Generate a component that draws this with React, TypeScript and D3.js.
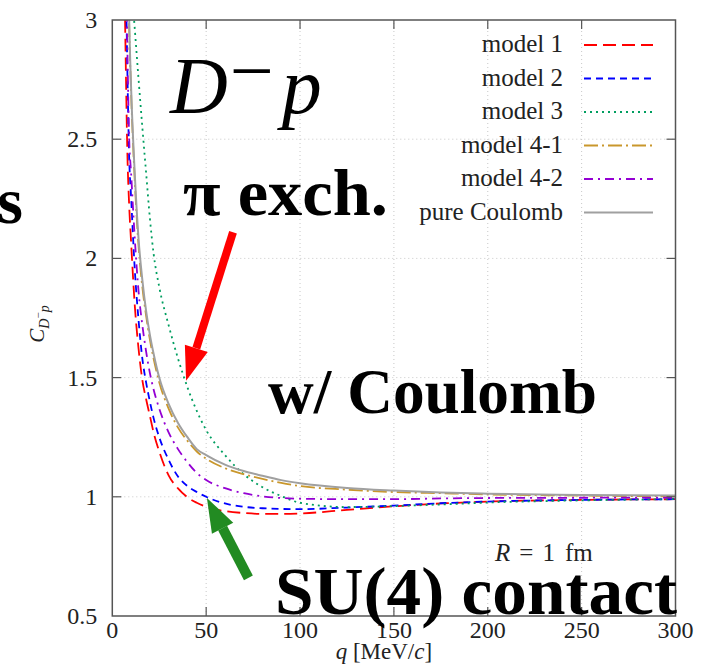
import React, { useRef, useEffect } from 'react';
import * as d3 from 'd3';

// momentum grid (MeV/c) shared by all curves
const qValues = [6, 7, 8, 9, 10, 12, 14, 16, 18, 20, 22, 25, 30, 35, 40, 45, 50, 60, 70, 80, 90, 100, 125, 150, 175, 200, 250, 300];

const model1 = [3.4, 2.9, 2.45, 2.22, 2.07, 1.8, 1.62, 1.49, 1.41, 1.34, 1.27, 1.19, 1.09, 1.035, 0.998, 0.975, 0.958, 0.94, 0.932, 0.928, 0.928, 0.93, 0.945, 0.96, 0.972, 0.98, 0.987, 0.99];
const model2 = [3.8, 3.3, 2.8, 2.42, 2.26, 1.95, 1.74, 1.58, 1.48, 1.4, 1.33, 1.25, 1.155, 1.085, 1.045, 1.02, 1.0, 0.972, 0.958, 0.952, 0.949, 0.948, 0.955, 0.963, 0.973, 0.98, 0.987, 0.99];
const model3 = [3.8, 3.6, 3.45, 3.3, 3.17, 2.96, 2.75, 2.55, 2.36, 2.17, 2.02, 1.88, 1.72, 1.58, 1.46, 1.36, 1.28, 1.175, 1.095, 1.04, 1.003, 0.975, 0.957, 0.961, 0.968, 0.976, 0.985, 0.99];
const model41 = [4.9, 4.1, 3.45, 2.97, 2.7, 2.32, 2.05, 1.88, 1.76, 1.66, 1.58, 1.48, 1.37, 1.29, 1.235, 1.19, 1.16, 1.12, 1.095, 1.075, 1.058, 1.045, 1.03, 1.02, 1.015, 1.01, 1.005, 1.002];
const model42 = [4.0, 3.5, 2.9, 2.5, 2.36, 2.08, 1.86, 1.72, 1.61, 1.52, 1.45, 1.37, 1.27, 1.2, 1.145, 1.1, 1.07, 1.036, 1.015, 1.002, 0.995, 0.992, 0.99, 0.99, 0.993, 0.995, 0.996, 0.997];
const pureCoulomb = [5.0, 4.2, 3.5, 3.0, 2.72, 2.35, 2.08, 1.91, 1.78, 1.68, 1.6, 1.5, 1.39, 1.31, 1.25, 1.2, 1.175, 1.135, 1.108, 1.088, 1.07, 1.057, 1.037, 1.026, 1.018, 1.013, 1.008, 1.005];

const seriesNames = ['model 1', 'model 2', 'model 3', 'model 4-1', 'model 4-2', 'pure Coulomb'];
const seriesValues = [model1, model2, model3, model41, model42, pureCoulomb];
const seriesColors = ['#ff0000', '#0000ff', '#009e60', '#c9972c', '#9400d3', '#a0a0a0'];
const seriesDash = ['13,6', '7,5', '2,4', '14,4,2,4', '9,5,2,5', null];

const xTicks = [0, 50, 100, 150, 200, 250, 300];
const yTicks = [0.5, 1, 1.5, 2, 2.5, 3];

const W = 704;
const H = 668;
const margin = { top: 20, right: 28.5, bottom: 52, left: 112.3 };
const serif = 'Times New Roman, Liberation Serif, DejaVu Serif, serif';

const App: React.FC = () => {
  const svgRef = useRef<SVGSVGElement | null>(null);

  useEffect(() => {
    const svg = d3.select(svgRef.current);
    svg.selectAll('*').remove();

    const x = d3.scaleLinear().domain([0, 300]).range([margin.left, W - margin.right]);
    const y = d3.scaleLinear().domain([0.5, 3]).range([H - margin.bottom, margin.top]);
    const [x0, x1] = x.range();
    const [y0, y1] = y.range();

    svg.append('defs').append('clipPath').attr('id', 'plot-clip')
      .append('rect').attr('x', x0).attr('y', y1).attr('width', x1 - x0).attr('height', y0 - y1);

    // dotted grid
    const grid = svg.append('g').attr('stroke', '#c8c8c8').attr('stroke-width', 1).attr('stroke-dasharray', '1,3');
    xTicks.slice(1, -1).forEach((t) => {
      grid.append('line').attr('x1', x(t)).attr('x2', x(t)).attr('y1', y0).attr('y2', y1);
    });
    yTicks.slice(1, -1).forEach((t) => {
      grid.append('line').attr('x1', x0).attr('x2', x1).attr('y1', y(t)).attr('y2', y(t));
    });

    // curves
    const line = d3.line<number>()
      .x((_, i) => x(qValues[i]))
      .y((d) => y(d))
      .curve(d3.curveMonotoneX);

    const curves = svg.append('g').attr('clip-path', 'url(#plot-clip)');
    seriesValues.forEach((vals, i) => {
      curves.append('path')
        .attr('d', line(vals) as string)
        .attr('fill', 'none')
        .attr('stroke', seriesColors[i])
        .attr('stroke-width', i === 5 ? 2 : 1.8)
        .attr('stroke-dasharray', seriesDash[i] ?? null);
    });

    // frame and inward ticks
    svg.append('rect').attr('x', x0).attr('y', y1).attr('width', x1 - x0).attr('height', y0 - y1)
      .attr('fill', 'none').attr('stroke', '#555').attr('stroke-width', 1.5);
    const ticks = svg.append('g').attr('stroke', '#555').attr('stroke-width', 1.2);
    xTicks.slice(1, -1).forEach((t) => {
      ticks.append('line').attr('x1', x(t)).attr('x2', x(t)).attr('y1', y0).attr('y2', y0 - 9);
      ticks.append('line').attr('x1', x(t)).attr('x2', x(t)).attr('y1', y1).attr('y2', y1 + 9);
    });
    yTicks.slice(1, -1).forEach((t) => {
      ticks.append('line').attr('x1', x0).attr('x2', x0 + 9).attr('y1', y(t)).attr('y2', y(t));
      ticks.append('line').attr('x1', x1).attr('x2', x1 - 9).attr('y1', y(t)).attr('y2', y(t));
    });

    // tick labels
    xTicks.forEach((t) => {
      svg.append('text').attr('x', x(t)).attr('y', y0 + 22).attr('text-anchor', 'middle')
        .style('font-family', serif).attr('font-size', 24).attr('fill', '#222').text(String(t));
    });
    yTicks.forEach((t) => {
      svg.append('text').attr('x', x0 - 15).attr('y', y(t) + 8).attr('text-anchor', 'end')
        .style('font-family', serif).attr('font-size', 24).attr('fill', '#222').text(String(t));
    });

    // axis titles
    const xt = svg.append('text').attr('x', (x0 + x1) / 2 - 10).attr('y', H - 9).attr('text-anchor', 'middle')
      .style('font-family', serif).attr('font-size', 23).attr('fill', '#222');
    xt.append('tspan').attr('font-style', 'italic').text('q');
    xt.append('tspan').text(' [MeV/');
    xt.append('tspan').attr('font-style', 'italic').text('c');
    xt.append('tspan').text(']');

    const yt = svg.append('text').attr('transform', `translate(44, ${(y0 + y1) / 2 + 6}) rotate(-90)`)
      .attr('text-anchor', 'middle').style('font-family', serif).attr('font-size', 21).attr('fill', '#222');
    yt.append('tspan').attr('font-style', 'italic').text('C');
    yt.append('tspan').attr('font-style', 'italic').attr('font-size', 14).attr('dy', 5).text('D');
    yt.append('tspan').attr('font-size', 11).attr('dy', -7).text('−');
    yt.append('tspan').attr('font-style', 'italic').attr('font-size', 14).attr('dy', 7).text('p');

    // legend
    const legend = svg.append('g');
    seriesNames.forEach((name, i) => {
      const by = 52 + i * 33.5;
      legend.append('text').attr('x', 563).attr('y', by).attr('text-anchor', 'end')
        .style('font-family', serif).attr('font-size', 25).attr('fill', '#222').text(name);
      legend.append('line').attr('x1', 584).attr('x2', 653).attr('y1', by - 7).attr('y2', by - 7)
        .attr('stroke', seriesColors[i]).attr('stroke-width', i === 5 ? 2 : 1.8)
        .attr('stroke-dasharray', seriesDash[i] ?? null);
    });

    const rt = svg.append('text').attr('x', 495).attr('y', 561)
      .style('font-family', serif).attr('font-size', 25).attr('fill', '#222');
    rt.append('tspan').attr('font-style', 'italic').text('R');
    rt.append('tspan').attr('dx', 9).text('=');
    rt.append('tspan').attr('dx', 9).text('1');
    rt.append('tspan').attr('dx', 10).text('fm');

    // D^- p label
    const dp = svg.append('text').attr('x', 170).attr('y', 113).style('font-family', serif)
      .attr('font-size', 80).attr('fill', '#000');
    dp.append('tspan').attr('font-style', 'italic').text('D');
    dp.append('tspan').attr('font-size', 78).attr('dy', -16).attr('dx', 2).text('−');
    dp.append('tspan').attr('font-style', 'italic').attr('dy', 16).attr('dx', 8).text('p');

    // bold annotations
    const bold = (txt: string, tx: number, ty: number, size: number, len?: number, anchor = 'start') => {
      const el = svg.append('text').attr('x', tx).attr('y', ty).attr('text-anchor', anchor)
        .style('font-family', serif).attr('font-weight', 'bold').attr('font-size', size)
        .attr('fill', '#000').text(txt);
      if (len) el.attr('textLength', len).attr('lengthAdjust', 'spacingAndGlyphs');
    };
    bold('s', 23, 223, 66, undefined, 'end');
    bold('π exch.', 183, 215, 66, 205);
    bold('w/ Coulomb', 268, 413, 64, 329);
    bold('SU(4) contact', 275, 614, 68, 402);

    // arrows
    const arrow = (from: [number, number], to: [number, number], color: string, shaft: number) => {
      const fx = x(from[0]);
      const fy = y(from[1]);
      const tx = x(to[0]);
      const ty = y(to[1]);
      const ang = Math.atan2(ty - fy, tx - fx);
      const headLen = 34;
      const headHalf = 12;
      const bx = tx - headLen * Math.cos(ang);
      const by = ty - headLen * Math.sin(ang);
      const nx = -Math.sin(ang);
      const ny = Math.cos(ang);
      svg.append('line').attr('x1', fx).attr('y1', fy).attr('x2', bx).attr('y2', by)
        .attr('stroke', color).attr('stroke-width', shaft);
      svg.append('polygon')
        .attr('points', [
          [tx, ty],
          [bx + nx * headHalf, by + ny * headHalf],
          [bx - nx * headHalf, by - ny * headHalf],
        ].map((p) => p.join(',')).join(' '))
        .attr('fill', color);
    };
    arrow([64.3, 2.11], [39.3, 1.487], '#ff0000', 8);
    arrow([72.5, 0.66], [50.4, 0.995], '#228b22', 10);
  }, []);

  return (
    <svg ref={svgRef} width={W} height={H} style={{ position: 'absolute', left: 0, top: 0, background: '#fff' }}></svg>
  );
};

export default App;
